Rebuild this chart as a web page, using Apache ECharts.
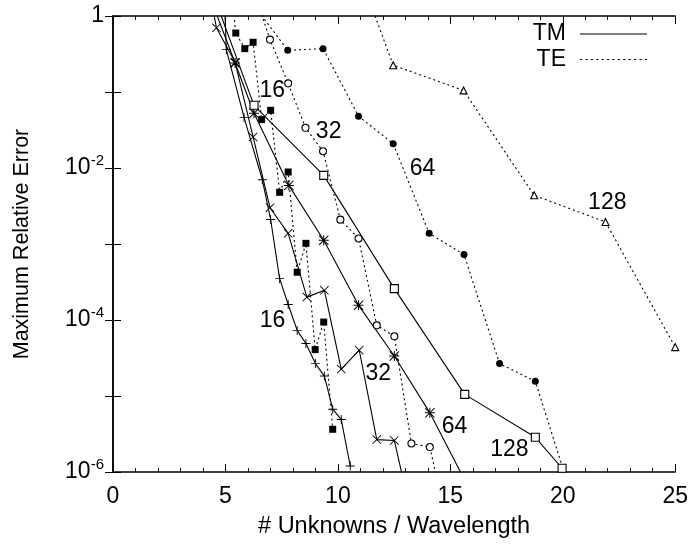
<!doctype html>
<html>
<head>
    <meta charset="UTF-8">
    <title>error_vs_unknowns</title>
    <script src="https://cdn.jsdelivr.net/npm/echarts@6/dist/echarts.min.js"></script>
    <style>
        html, body { margin: 0; padding: 0; background: #fff; }
        #main { width: 691px; height: 548px; }
    </style>
</head>
<body>
<div id="main"></div>
<script>
    // [unknowns per wavelength, max relative error]
    var tm16 = [[4.92, 3.0], [5.04, 0.361], [5.83, 0.046], [6.64, 7.0e-3], [7.01, 2.1e-3], [7.41, 3.5e-4],
        [7.79, 1.6e-4], [8.19, 7.3e-5], [8.58, 4.9e-5], [9.00, 2.67e-5], [9.40, 1.83e-5], [9.77, 6.7e-6],
        [10.15, 4.9e-6], [10.55, 1.2e-6]];
    var tm32 = [[4.19, 3.0], [4.60, 0.70], [5.43, 0.246], [6.23, 0.0256], [6.98, 3.0e-3], [7.79, 1.38e-3],
        [8.62, 2.0e-4], [9.40, 2.46e-4], [10.15, 2.26e-5], [10.95, 4.0e-5], [11.73, 2.67e-6], [12.51, 2.6e-6],
        [13.29, 2.5e-7]];
    var tm64 = [[4.02, 3.0], [5.43, 0.241], [6.27, 0.0525], [7.82, 5.9e-3], [9.37, 1.12e-3], [10.92, 1.56e-4],
        [12.51, 3.36e-5], [14.09, 6.0e-6], [15.65, 7.7e-7]];
    var tm128 = [[4.22, 3.0], [6.27, 0.0668], [9.37, 8.0e-3], [12.51, 2.59e-4], [15.64, 1.05e-5],
        [18.78, 2.86e-6], [19.97, 1.12e-6]];

    var te16 = [[5.07, 8.5], [5.46, 0.597], [5.86, 0.372], [6.23, 0.451], [6.61, 0.0433], [7.01, 0.0574],
        [7.41, 4.79e-3], [7.79, 8.86e-3], [8.19, 4.25e-4], [8.58, 1.02e-3], [8.99, 4.08e-5], [9.37, 9.4e-5],
        [9.77, 3.65e-6]];
    var te32 = [[6.19, 2.5], [6.98, 0.489], [7.79, 0.130], [8.56, 0.0338], [9.34, 0.0166], [10.11, 2.09e-3],
        [10.92, 1.18e-3], [11.73, 8.5e-5], [12.51, 6.1e-5], [13.27, 2.37e-6], [14.09, 2.13e-6], [14.87, 1.95e-7]];
    var te64 = [[6.20, 1.47], [7.77, 0.354], [9.34, 0.372], [10.92, 0.0479], [12.46, 0.0209], [14.06, 1.38e-3],
        [15.61, 7.26e-4], [17.19, 2.67e-5], [18.78, 1.56e-5], [20.35, 5.3e-7]];
    var te128 = [[9.34, 71], [12.46, 0.225], [15.59, 0.105], [18.73, 4.37e-3], [21.90, 1.95e-3], [25.0, 4.4e-5]];

    // curve annotations [x, y, text]
    var curveLabels = [[7.08, 0.105, '16'], [9.59, 0.0298, '32'], [13.76, 9.8e-3, '64'], [21.98, 3.46e-3, '128'],
        [7.09, 9.9e-5, '16'], [11.80, 1.97e-5, '32'], [15.19, 3.9e-6, '64'], [17.63, 1.97e-6, '128']];

    var FONT = '"Liberation Sans", Arial, Helvetica, sans-serif';

    var plusPath = 'path://M4.5,0H5.5V4.5H10V5.5H5.5V10H4.5V5.5H0V4.5H4.5Z';
    var crossPath = 'path://M0.7,0L5,4.3L9.3,0L10,0.7L5.7,5L10,9.3L9.3,10L5,5.7L0.7,10L0,9.3L4.3,5L0,0.7Z';
    var starPath = plusPath + ' ' + crossPath.slice(7);

    var dotted = 'path://';
    for (var i = 0; i < 67; i += 5.5) dotted += 'M' + i + ',0h2.2v1h-2.2z';

    function tm(data, symbol, size, fill) {
        return {
            name: 'TM', type: 'line', data: data, symbol: symbol, symbolSize: size,
            lineStyle: {color: '#000', width: 1.1},
            itemStyle: {color: fill, borderColor: '#000', borderWidth: fill === '#fff' ? 1.1 : 0},
            z: 3
        };
    }
    function te(data, symbol, size, fill) {
        return {
            name: 'TE', type: 'line', data: data, symbol: symbol, symbolSize: size,
            lineStyle: {color: '#000', width: 1.1, type: [2, 3]},
            itemStyle: {color: fill, borderColor: '#000', borderWidth: fill === '#fff' ? 1.1 : 0},
            z: 3
        };
    }

    var yLabel = function (v) {
        var e = Math.round(Math.log10(v));
        if (e % 2 !== 0) return '';
        if (e === 0) return '1';
        return '{b|10}{s|' + e + '}';
    };

    var xBase = {
        type: 'value', min: 0, max: 25, interval: 5,
        axisLine: {lineStyle: {color: '#000', width: 1.5}},
        axisTick: {inside: true, length: 8, lineStyle: {color: '#000', width: 1}},
        minorTick: {show: true, splitNumber: 5, length: 4, lineStyle: {color: '#000', width: 1}},
        splitLine: {show: false}
    };
    var yBase = {
        type: 'log', logBase: 10, min: 1e-6, max: 1, splitNumber: 6,
        axisLine: {lineStyle: {color: '#000', width: 1.5}},
        axisTick: {inside: true, length: 8, lineStyle: {color: '#000', width: 1}},
        splitLine: {show: false}
    };

    var chart = echarts.init(document.getElementById('main'));
    chart.setOption({
        animation: false,
        textStyle: {fontFamily: FONT},
        grid: {left: 113, right: 11, top: 16, bottom: 76},
        legend: {
            data: [
                {name: 'TM', icon: 'path://M0,0H67V1H0Z', itemStyle: {color: '#000'}},
                {name: 'TE', icon: dotted, itemStyle: {color: '#000'}}
            ],
            orient: 'vertical', right: 44, top: 22, padding: 0, align: 'right',
            itemWidth: 67, itemHeight: 1.2, itemGap: 1.5, selectedMode: false,
            textStyle: {fontSize: 23, lineHeight: 24, color: '#000', fontFamily: FONT, padding: [0, 9, 0, 0]}
        },
        xAxis: [
            Object.assign({}, xBase, {
                position: 'bottom',
                name: '# Unknowns / Wavelength', nameLocation: 'middle', nameGap: 43,
                nameTextStyle: {fontSize: 23.5, color: '#000', fontFamily: FONT},
                axisLabel: {fontSize: 23, color: '#000', margin: 13, fontFamily: FONT}
            }),
            Object.assign({}, xBase, {position: 'top', axisLabel: {show: false}})
        ],
        yAxis: [
            Object.assign({}, yBase, {
                position: 'left',
                name: 'Maximum Relative Error', nameLocation: 'middle', nameGap: 80,
                nameTextStyle: {fontSize: 21.5, color: '#000', fontFamily: FONT},
                axisLabel: {
                    color: '#000', margin: 9, fontFamily: FONT, formatter: yLabel,
                    fontSize: 23,
                    rich: {
                        b: {fontSize: 23, color: '#000', fontFamily: FONT},
                        s: {fontSize: 15, color: '#000', fontFamily: FONT, padding: [0, 0, 14, 0]}
                    }
                }
            }),
            Object.assign({}, yBase, {position: 'right', axisLabel: {show: false}})
        ],
        series: [
            tm(tm16, plusPath, 9, '#000'),
            tm(tm32, crossPath, 9, '#000'),
            tm(tm64, starPath, 10, '#000'),
            tm(tm128, 'rect', 8, '#fff'),
            te(te16, 'rect', 7, '#000'),
            te(te32, 'circle', 7, '#fff'),
            te(te64, 'circle', 7, '#000'),
            te(te128, 'triangle', 7, '#fff'),
            {
                name: 'labels', type: 'scatter', data: curveLabels, symbolSize: 0,
                itemStyle: {color: '#000', opacity: 1},
                label: {
                    show: true, position: 'inside', color: '#000', fontSize: 23, fontFamily: FONT,
                    textBorderWidth: 0, opacity: 1,
                    formatter: function (p) { return p.value[2]; }
                },
                z: 4
            }
        ]
    });
</script>
</body>
</html>
